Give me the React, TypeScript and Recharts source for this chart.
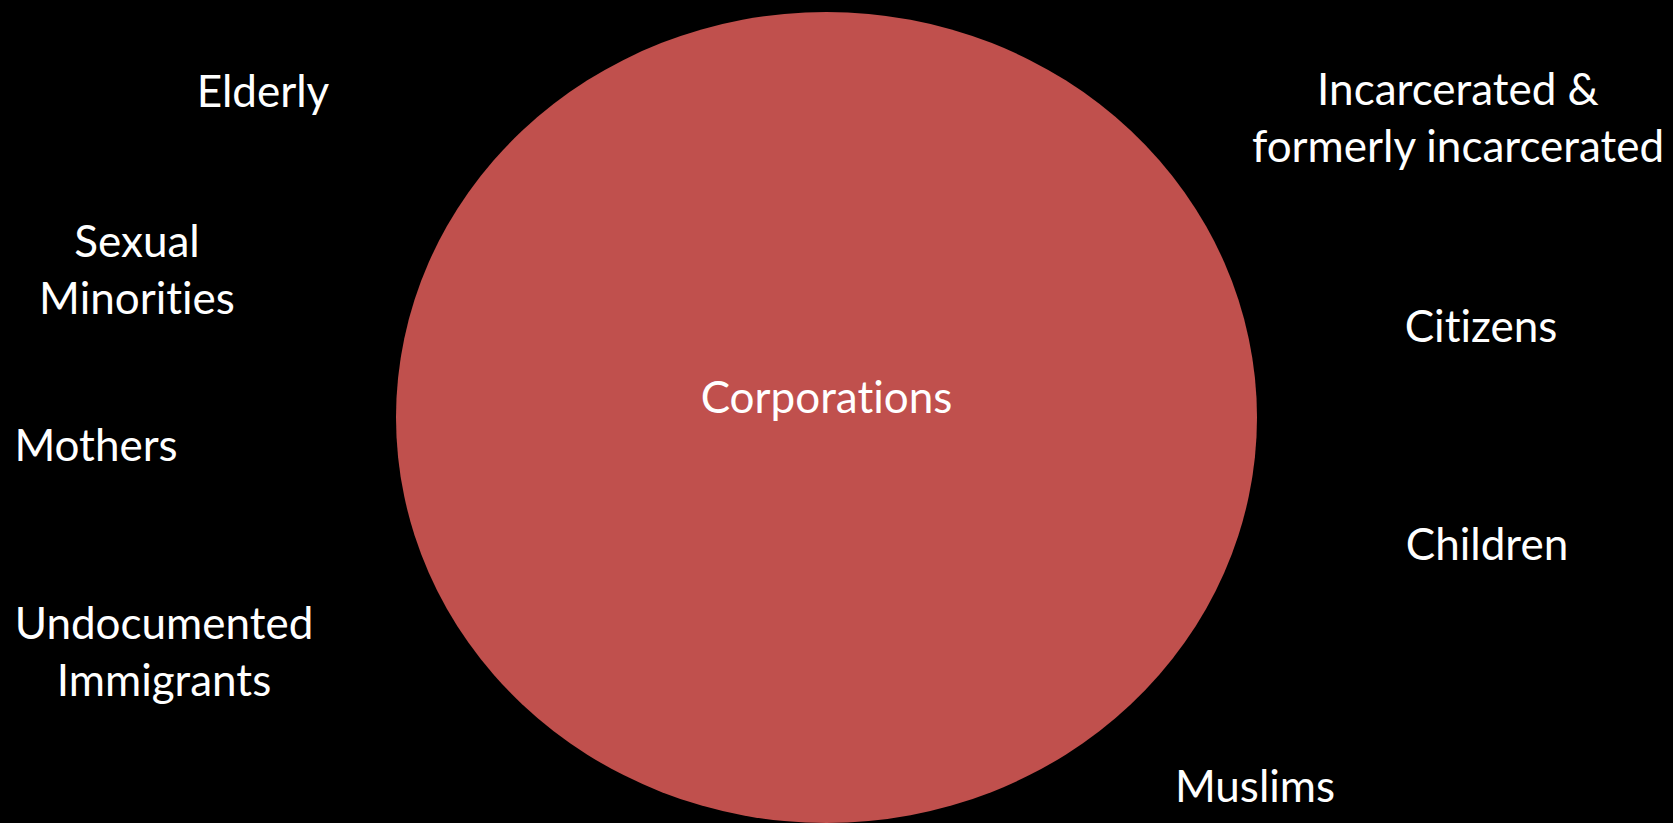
import React from "react"
import { ScatterChart, Scatter, XAxis, YAxis, ReferenceArea } from "recharts"

// groups placed around the big circle, positions (pixel-like units)
const groups = [
  "Elderly",
  "Sexual\nMinorities",
  "Mothers",
  "Undocumented\nImmigrants",
  "Incarcerated &\nformerly incarcerated",
  "Citizens",
  "Children",
  "Muslims",
]
const groupX = [263, 137, 96, 164, 1458, 1481, 1487, 1255]
const groupY = [107, 257, 461, 639, 105, 342, 560, 802]

const centerLabel = "Corporations"
const circleX = [396, 1257]
const circleY = [12, 823]

const W = 1673
const H = 823
const FONT = "Lato, 'Open Sans', sans-serif"

const points = groups.map((name, i) => ({ name, x: groupX[i], y: groupY[i] }))
const centerPoint = [{ name: centerLabel, x: (circleX[0] + circleX[1]) / 2, y: 413 }]

const TextMark = (props: any) => {
  const { cx, cy, payload } = props
  const lines = String(payload.name).split("\n")
  return (
    <text
      x={cx}
      y={cy}
      textAnchor="middle"
      fill="#ffffff"
      fontSize={44}
      fontFamily={FONT}
      style={{ fontVariantLigatures: "none" }}
    >
      {lines.map((l, i) => (
        <tspan key={i} x={cx} dy={i === 0 ? 0 : 57}>
          {l}
        </tspan>
      ))}
    </text>
  )
}

const Ellipse = (props: any) => {
  const { x, y, width, height } = props
  return <ellipse cx={x + width / 2} cy={y + height / 2} rx={width / 2} ry={height / 2} fill="#C0504D" />
}

export default function App() {
  return (
    <div style={{ position: "fixed", left: 0, top: 0, width: W, height: H, background: "#000" }}>
      <ScatterChart width={W} height={H} margin={{ top: 0, right: 0, bottom: 0, left: 0 }}>
        <XAxis type="number" dataKey="x" domain={[0, W]} hide />
        <YAxis type="number" dataKey="y" domain={[0, H]} reversed hide />
        <ReferenceArea
          x1={circleX[0]}
          x2={circleX[1]}
          y1={circleY[0]}
          y2={circleY[1]}
          shape={Ellipse}
          ifOverflow="visible"
        />
        <Scatter data={points} shape={TextMark} isAnimationActive={false} />
        <Scatter data={centerPoint} shape={TextMark} isAnimationActive={false} />
      </ScatterChart>
    </div>
  )
}
